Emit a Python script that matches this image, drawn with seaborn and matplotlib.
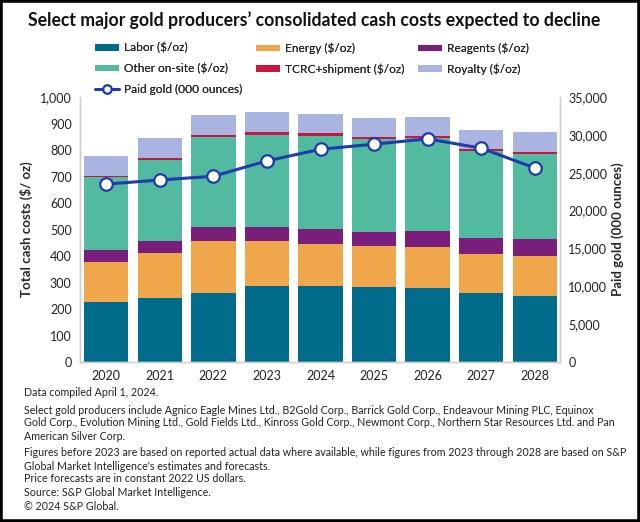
import matplotlib
matplotlib.use("Agg")
import matplotlib.pyplot as plt
import seaborn as sns
import numpy as np
import pandas as pd
from matplotlib.patches import Rectangle
from matplotlib.lines import Line2D
from matplotlib.patches import Patch

years = ["2020", "2021", "2022", "2023", "2024", "2025", "2026", "2027", "2028"]
labor = [227, 241, 260, 286, 286, 282, 278, 259, 251]
energy = [151, 169, 196, 170, 159, 157, 157, 148, 151]
reagents = [44, 46, 52, 52, 56, 53, 60, 60, 61]
other_onsite = [275, 307, 343, 350, 353, 349, 352, 329, 322]
tcrc = [5, 6, 7, 12, 10, 9, 8, 8, 8]
royalty = [77, 78, 75, 73, 73, 70, 69, 70, 75]
paid_gold = [23500, 24050, 24540, 26570, 28110, 28780, 29480, 28250, 25640]

series_names = ["Labor ($/oz)", "Energy ($/oz)", "Reagents ($/oz)",
                "Other on-site ($/oz)", "TCRC+shipment ($/oz)", "Royalty ($/oz)"]
series_vals = [labor, energy, reagents, other_onsite, tcrc, royalty]
colors = ["#006B8A", "#F0A64A", "#791F7B", "#52BA9F", "#C8173F", "#A9B5E0"]
line_color = "#1F3CAE"

sns.set_theme(style="white")
plt.rcParams["font.family"] = ["Lato", "DejaVu Sans"]

fig = plt.figure(figsize=(6.4, 5.22), dpi=100)
ax = fig.add_axes([0.125, 0.3065, 0.75, 0.5075])

cum = np.zeros(len(years))
cums = []
for v in series_vals:
    cum = cum + np.array(v)
    cums.append(cum.copy())

# draw from top layer downward so lower layers overlay upper ones
for i in range(len(series_vals) - 1, -1, -1):
    d = pd.DataFrame({"year": years, "val": cums[i]})
    sns.barplot(data=d, x="year", y="val", color=colors[i], width=0.83,
                saturation=1, ax=ax, linewidth=0, errorbar=None)

ax.set_xlim(-0.49, 8.47)
ax.set_ylim(0, 1000)
ax.set_yticks(np.arange(0, 1001, 100))
ax.set_yticklabels([f"{v:,}" for v in range(0, 1001, 100)])
ax.set_xlabel("")
ax.set_ylabel("Total cash costs ($/ oz)", fontsize=9.5, fontweight="bold", labelpad=5)

ax2 = ax.twinx()
dl = pd.DataFrame({"x": np.arange(len(years)), "gold": paid_gold})
sns.lineplot(data=dl, x="x", y="gold", ax=ax2, color=line_color, linewidth=2.2,
             marker="o", markersize=9, markerfacecolor="white",
             markeredgecolor=line_color, markeredgewidth=1.6)
ax2.set_ylim(0, 35000)
ax2.set_yticks(np.arange(0, 35001, 5000))
ax2.set_yticklabels([f"{v:,}" for v in range(0, 35001, 5000)])
ax2.set_ylabel("Paid gold (000 ounces)", fontsize=9.5, fontweight="bold", labelpad=3)
ax2.set_xlabel("")
ax2.set_xlim(-0.49, 8.47)

for a in (ax, ax2):
    a.tick_params(axis="both", length=0, labelsize=9, colors="#222222", pad=6)
    a.spines["top"].set_visible(False)
    for s in ("left", "right", "bottom"):
        a.spines[s].set_color("#CFCFCF")
        a.spines[s].set_linewidth(1.0)
    a.grid(False)

# legend: three columns placed explicitly, row-wise order like the original
patches = [Patch(facecolor=c, edgecolor="none") for c in colors]
gold_handle = Line2D([0], [0], color=line_color, lw=2, marker="o", markersize=6,
                     markerfacecolor="white", markeredgecolor=line_color, markeredgewidth=1.5)
columns = [
    ([patches[0], patches[3], gold_handle], [series_names[0], series_names[3], "Paid gold (000 ounces)"], 95),
    ([patches[1], patches[4]], [series_names[1], series_names[4]], 256),
    ([patches[2], patches[5]], [series_names[2], series_names[5]], 418),
]
for hs, ls, xpx in columns:
    lg = fig.legend(hs, ls, loc="upper left", bbox_to_anchor=(xpx / 640, 1 - 42.5 / 522),
                    frameon=False, fontsize=8.6, handlelength=2.0, handleheight=0.42,
                    handletextpad=0.4, labelspacing=0.78, borderpad=0, borderaxespad=0)
    fig.add_artist(lg)

fig.text(0.044, 0.962, "Select major gold producers\u2019 consolidated cash costs expected to decline",
         fontsize=12.7, fontweight="bold", ha="left", va="center", color="#111111")

notes = [
    (392, "Data compiled April 1, 2024."),
    (410, "Select gold producers include Agnico Eagle Mines Ltd., B2Gold Corp., Barrick Gold Corp., Endeavour Mining PLC, Equinox"),
    (423, "Gold Corp., Evolution Mining Ltd., Gold Fields Ltd., Kinross Gold Corp., Newmont Corp., Northern Star Resources Ltd. and Pan"),
    (436, "American Silver Corp."),
    (453, "Figures before 2023 are based on reported actual data where available, while figures from 2023 through 2028 are based on S&P"),
    (466, "Global Market Intelligence's estimates and forecasts."),
    (479, "Price forecasts are in constant 2022 US dollars."),
    (493, "Source: S&P Global Market Intelligence."),
    (506, "\u00a9 2024 S&P Global."),
]
for y, t in notes:
    fig.text(24 / 640, 1 - y / 522, t, fontsize=7.7, ha="left", va="center", color="#222222")

fig.patches.append(Rectangle((0, 0), 1, 1, transform=fig.transFigure, fill=False,
                             edgecolor="black", linewidth=4, zorder=10))

fig.savefig("out.png", dpi=100)
